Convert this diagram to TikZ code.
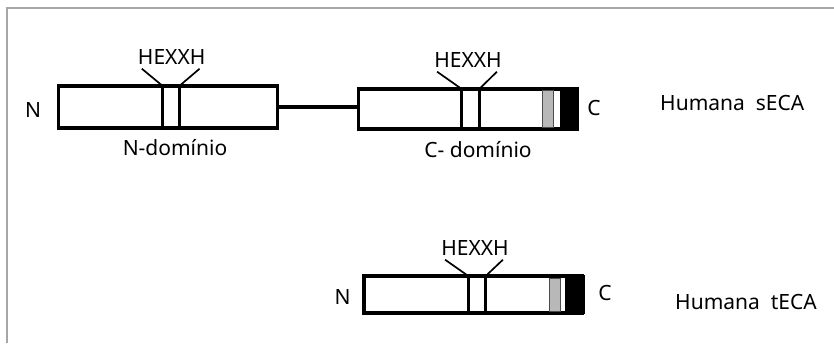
\documentclass[tikz,border=0pt]{standalone}
\usepackage{fontspec}
\setmainfont{Noto Sans}
\begin{document}
\begin{tikzpicture}[x=1pt,y=-1pt,
  domainbox/.style={draw=black, line width=3.5pt, inner sep=0pt},
  bar/.style={line width=3.3pt},
  lbl/.style={inner sep=0pt, font=\fontsize{21}{24}\selectfont},
  tie/.style={line width=1.7pt},
  greyband/.style={fill=black!28, draw=black!70, line width=0.6pt},
  blackband/.style={fill=black}]
\useasboundingbox (0,0) rectangle (834,343);
% outer frame
\draw[black!35, line width=1.5pt] (7,343) -- (7,8) -- (834,8);

% ---------- soluble form ----------
\node[domainbox, minimum width=219pt, minimum height=42pt] (nd) at (168,107) {};
\node[domainbox, minimum width=217pt, minimum height=40pt] (cd) at (467,109) {};
\draw[line width=3.2pt] (nd.east) -- (nd.east -| cd.west);

% C-terminal bands
\fill[blackband] (560,87) rectangle (578.5,131);
\draw[greyband] (542,90.5) rectangle (553,127.5);
% active-site bars
\draw[bar] (162.7,85.5) -- (162.7,128.5) (179.3,85.5) -- (179.3,128.5);
\draw[bar] (461.7,88.5) -- (461.7,129.5) (479.3,88.5) -- (479.3,129.5);

\node[lbl] (hx1) at (171.7,57) {HEXXH};
\node[lbl] (hx2) at (468,60) {HEXXH};
\draw[tie] (hx1.south west) ++(4,4) coordinate (a1) -- (162.7,86);
\draw[tie] (hx1.south east) ++(-6,4) coordinate (b1) -- (179.3,86);
\draw[tie] (hx2.south west) ++(3,4) coordinate (a2) -- (461.7,89);
\draw[tie] (hx2.south east) ++(-5,4) coordinate (b2) -- (479.3,89);

\node[lbl] (n1) at (33,110) {N};
\node[lbl] (c1) at (594,108) {C};
\node[lbl] (ndl) at (175,148) {N-domínio};
\node[lbl] (cdl) at (478,150) {C- domínio};
\node[lbl, anchor=west] (s) at (660,103) {Humana\ \ sECA};

% ---------- testicular form ----------
\node[domainbox, minimum width=218pt, minimum height=37pt] (td) at (473,294.5) {};
\fill[blackband] (565,275) rectangle (584.5,314);
\draw[greyband] (549,278) rectangle (560.5,311);
\draw[bar] (468.3,276) -- (468.3,313) (485.7,276) -- (485.7,313);

\node[lbl] (hx3) at (475,248) {HEXXH};
\draw[tie] (hx3.south west) ++(4,4) coordinate (a3) -- (468.3,276);
\draw[tie] (hx3.south east) ++(-6,4) coordinate (b3) -- (485.7,276);

\node[lbl] (n3) at (342.7,296.7) {N};
\node[lbl] (c3) at (605,293) {C};
\node[lbl, anchor=west] (t) at (675,302) {Humana\ \ tECA};
\end{tikzpicture}
\end{document}
